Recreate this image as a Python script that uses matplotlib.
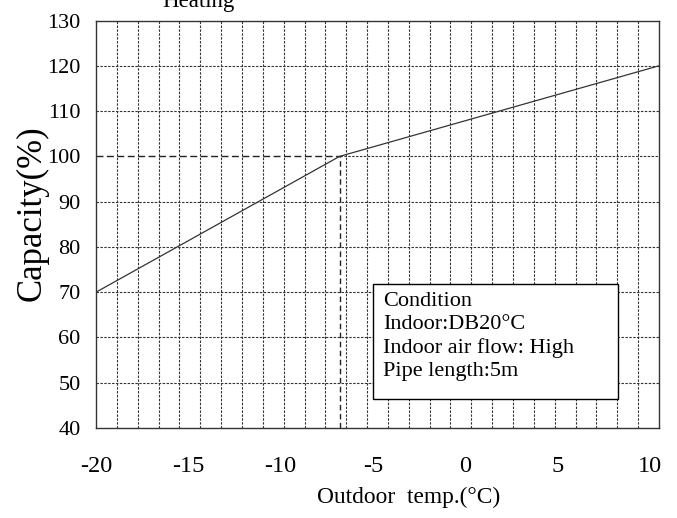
import matplotlib
matplotlib.use("Agg")
import matplotlib.pyplot as plt
import numpy as np
from matplotlib.patches import Rectangle

plt.rcParams['font.family'] = ['Liberation Serif', 'DejaVu Serif']
plt.rcParams['axes.unicode_minus'] = False

# heating capacity curve vs outdoor temperature
outdoor_temp = [-20, -6.8, 10.5]
capacity = [70, 100, 120]
rated_temp = -6.8
rated_capacity = 100

x_min, x_max = -20, 10.5
y_min, y_max = 40, 130
x_ticks = [-20, -15, -10, -5, 0, 5, 10]
y_ticks = [40, 50, 60, 70, 80, 90, 100, 110, 120, 130]
n_vgrid = 27

condition_lines = ["Condition", "Indoor:DB20°C", "Indoor air flow: High", "Pipe length:5m"]

fig = plt.figure(figsize=(6.77, 5.18), dpi=100)
ax = fig.add_axes([0.1418, 0.1737, 0.8316, 0.7867])

ax.set_xlim(x_min, x_max)
ax.set_ylim(y_min, y_max)

grid_kw = dict(color='#333333', lw=0.8, linestyle=(0, (2.2, 1.3)), zorder=1)
for gx in np.linspace(x_min, x_max, n_vgrid + 1)[1:-1]:
    ax.axvline(gx, **grid_kw)
for gy in y_ticks[1:-1]:
    if gy != rated_capacity:
        ax.axhline(gy, **grid_kw)

# reference lines to the rated point
ax.plot([x_min, rated_temp], [rated_capacity, rated_capacity], color='#222222',
        lw=1.0, linestyle=(0, (5, 2.5)), zorder=2)
ax.plot([rated_temp, x_max], [rated_capacity, rated_capacity], **grid_kw)
ax.plot([rated_temp, rated_temp], [y_min, rated_capacity], color='#222222',
        lw=1.0, linestyle=(0, (4, 2.5)), zorder=2)

ax.plot(outdoor_temp, capacity, color='#333333', lw=0.9, zorder=3)

ax.set_xticks(x_ticks)
ax.set_yticks(y_ticks)
ax.tick_params(axis='x', length=0, pad=20, labelsize=17.5)
ax.tick_params(axis='y', length=0, pad=11, labelsize=16)
for sp in ax.spines.values():
    sp.set_color('#333333')
    sp.set_linewidth(1.0)

# condition box
ax.add_patch(Rectangle((0.4915, 0.0704), 0.4365, 0.2822, transform=ax.transAxes,
                       facecolor='white', edgecolor='black', lw=1.0, zorder=4))
ax.text(0.51, 0.334, "\n".join(condition_lines), transform=ax.transAxes,
        fontsize=16, va='top', ha='left', linespacing=1.28, zorder=5)

fig.text(32 / 677, 1 - 213 / 518, "Capacity(%)", rotation=90, fontsize=25,
         ha='center', va='center')
fig.text(409 / 677, 1 - 497 / 518, "Outdoor  temp.(°C)", fontsize=16.8,
         ha='center', va='center')
fig.text(198 / 677, 1 - 7 / 518, "Heating", fontsize=16.5, ha='center', va='baseline')

fig.savefig("out.png", dpi=100)
